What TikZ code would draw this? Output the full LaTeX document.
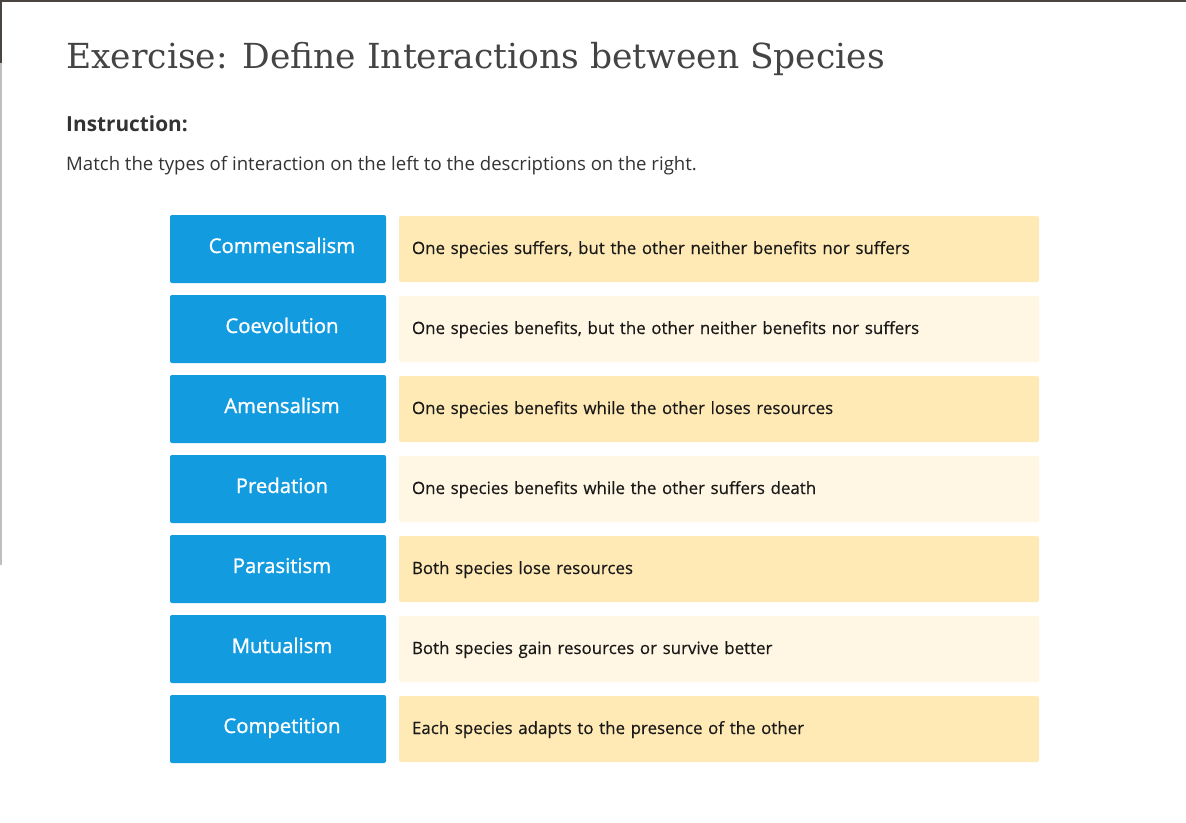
\documentclass[tikz,border=0pt]{standalone}
\usepackage{fontspec}
\setmainfont{Open Sans}
\newfontfamily\slabfont{DejaVu Serif}
\newfontfamily\semifont[FakeBold=1.1]{Open Sans}
\newfontfamily\descfont[FakeBold=0.5]{Open Sans}
\usetikzlibrary{positioning}

\definecolor{termblue}{HTML}{139BE0}
\definecolor{descdark}{HTML}{FFEAB5}
\definecolor{desclight}{HTML}{FFF7E3}
\definecolor{headgray}{HTML}{444444}
\definecolor{bodygray}{HTML}{333333}
\definecolor{framedark}{HTML}{4A4540}

\tikzset{
  term/.style={fill=termblue, text=white, rounded corners=2pt,
    minimum width=216pt, minimum height=68pt, inner sep=0pt, outer sep=0pt,
    text height=15pt, text depth=7pt,
    execute at begin node=\hspace*{8pt},
    font=\semifont\fontsize{20.3}{24}\selectfont},
  desc/.style={rounded corners=2pt, minimum width=640pt, minimum height=66pt,
    text width=614pt, inner xsep=13pt, outer sep=0pt, align=left,
    text height=14pt, text depth=4pt,
    text=black!90, font=\descfont\fontsize{16.9}{20}\selectfont},
}

\begin{document}
\begin{tikzpicture}[x=1pt,y=-1pt,node distance=12pt]
\fill[white] (0,0) rectangle (1186,822);
\useasboundingbox (0,0) rectangle (1186,822);
% page frame
\fill[framedark] (0,0) rectangle (1186,1.6);
\fill[framedark] (0,0) rectangle (1.6,63);
\fill[black!25] (0,63) rectangle (1.6,565);

\node[anchor=base west, inner sep=0pt, text=headgray,
  font=\slabfont\fontsize{34.5}{40}\selectfont] (title) at (66,68)
  {Exercise: Define Interactions between Species};
\node[anchor=base west, inner sep=0pt, text=bodygray,
  font=\bfseries\fontsize{20.8}{24}\selectfont] (instr) at (66,131) {Instruction:};
\node[anchor=base west, inner sep=0pt, text=bodygray,
  font=\fontsize{18.6}{22}\selectfont] (task) at (66,170)
  {Match the types of interaction on the left to the descriptions on the right.};

% left column
\node[term, anchor=north west] (comm) at (170,215) {Commensalism};
\node[term, below=of comm] (coev) {Coevolution};
\node[term, below=of coev] (amen) {Amensalism};
\node[term, below=of amen] (pred) {Predation};
\node[term, below=of pred] (para) {Parasitism};
\node[term, below=of para] (mutu) {Mutualism};
\node[term, below=of mutu] (comp) {Competition};

% right column
\node[desc, fill=descdark, right=13pt of comm] (commdesc)
  {One species suffers, but the other neither benefits nor suffers};
\node[desc, fill=desclight, right=13pt of coev] (coevdesc)
  {One species benefits, but the other neither benefits nor suffers};
\node[desc, fill=descdark, right=13pt of amen] (amendesc)
  {One species benefits while the other loses resources};
\node[desc, fill=desclight, right=13pt of pred] (preddesc)
  {One species benefits while the other suffers death};
\node[desc, fill=descdark, right=13pt of para] (paradesc)
  {Both species lose resources};
\node[desc, fill=desclight, right=13pt of mutu] (mutudesc)
  {Both species gain resources or survive better};
\node[desc, fill=descdark, right=13pt of comp] (compdesc)
  {Each species adapts to the presence of the other};
\end{tikzpicture}
\end{document}
